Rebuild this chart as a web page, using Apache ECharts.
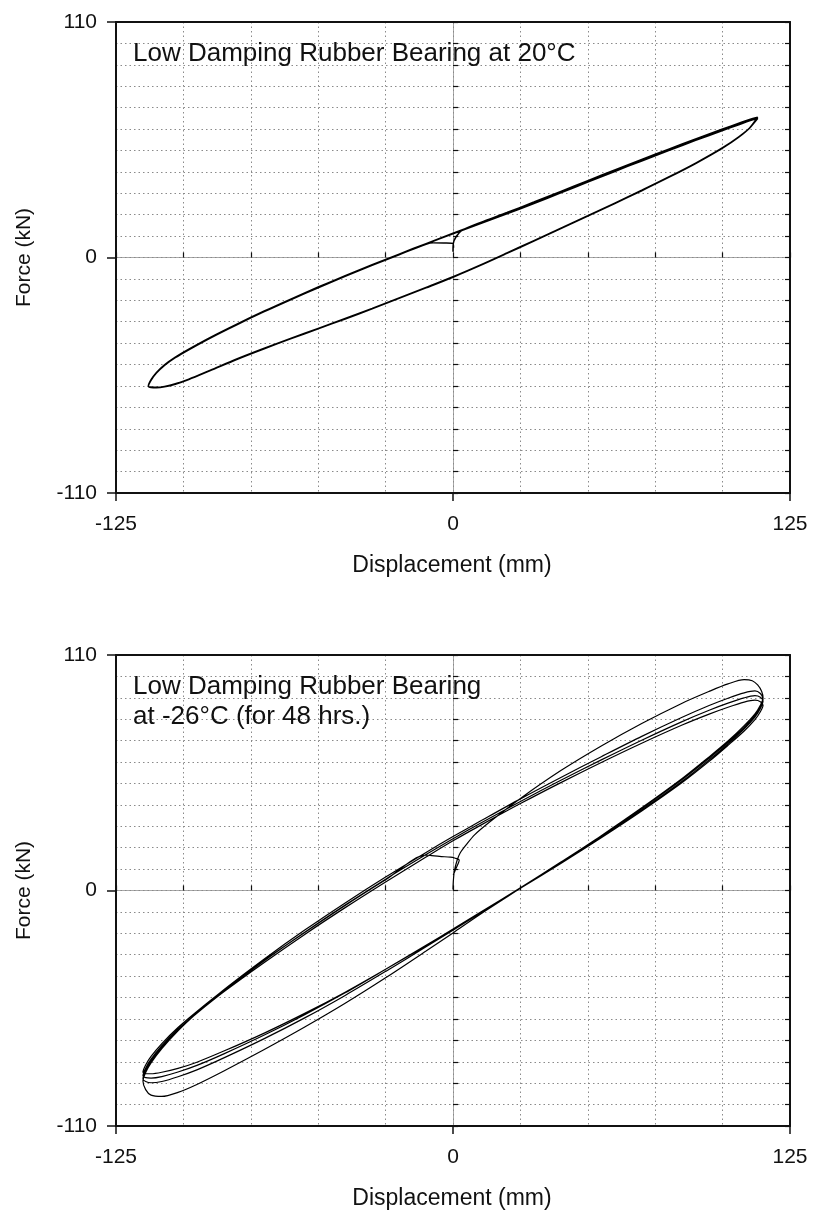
<!DOCTYPE html>
<html>
<head>
<meta charset="utf-8">
<title>Low Damping Rubber Bearing – hysteresis</title>
<script src="https://cdn.jsdelivr.net/npm/echarts@6/dist/echarts.min.js"></script>
<style>
  html, body { margin: 0; padding: 0; background: #fff; }
  #chart { width: 814px; height: 1212px; }
</style>
</head>
<body>
<div id="chart"></div>
<script>
// ---------------- Test at 20 °C ----------------
// Displacement stations (mm) shared by every branch of the loop
const topDisp = [-113, -112, -110, -107, -103, -98, -90, -80, -70, -60, -50, -40, -30, -20, -10,
                 0, 10, 20, 30, 40, 50, 60, 70, 80, 90, 100, 106, 110, 113];
// first loading from rest onto the loop (mm, kN)
const topStart = [[0, 2.7], [0.1, 6.5], [1.2, 9.8], [3.2, 12.6]];
// loading branch of cycle 1, stations 10 … 113 mm (kN)
const topUpper1 = [16.3, 21, 25.9, 30.9, 35.9, 40.9, 45.8, 50.6, 55.4, 60, 62.7, 64.5, 65.5];
// unloading branches, listed in increasing displacement (kN)
const topLower1 = [-60.1, -60.7, -60.8, -60.4, -59.2, -57, -52.8, -47.5, -42.6, -37.9, -33.3, -28.7, -24, -19.1, -14.2,
                   -9.2, -3.8, 1.9, 7.7, 13.5, 19.3, 25.2, 31.2, 37.4, 43.9, 51.1, 56.2, 60.5, 65.5];
const topUpper2 = [-60.1, -57.3, -53.9, -50.3, -46.7, -43, -37.5, -31.2, -25.2, -19.5, -14, -8.7, -3.6, 1.4, 6.3,
                   11.1, 15.8, 20.4, 25.2, 30.2, 35.2, 40.2, 45.1, 49.9, 54.7, 59.3, 62, 63.8, 64.9];
const topLower2 = [-60, -60.5, -60.6, -60.2, -59, -56.8, -52.6, -47.3, -42.4, -37.7, -33.1, -28.5, -23.8, -18.9, -14,
                   -9, -3.6, 2.1, 7.9, 13.7, 19.5, 25.4, 31.4, 37.6, 44.1, 51.3, 56.4, 60.5, 64.9];
const topUpper3 = [-60, -57.1, -53.7, -50.1, -46.5, -42.8, -37.3, -31, -25, -19.3, -13.8, -8.5, -3.4, 1.6, 6.5,
                   11.3, 16, 20.6, 25.4, 30.4, 35.4, 40.4, 45.3, 50.1, 54.9, 59.5, 62.2, 64, 65.1];
const topLower3 = [-60.2, -60.6, -60.7, -60.3, -59.1, -56.9, -52.7, -47.4, -42.5, -37.8, -33.2, -28.6, -23.9, -19, -14.1,
                   -9.1, -3.7, 2, 7.8, 13.6, 19.4, 25.3, 31.3, 37.5, 44, 51.2, 56.3, 60.4, 65.1];
// last loading branch, stations -113 … -10 mm (kN)
const topUpper4 = [-60.2, -57.4, -54, -50.4, -46.8, -43.1, -37.6, -31.3, -25.3, -19.6, -14.1, -8.8, -3.7, 1.3, 6.2];
// return to zero displacement at the end of the test
const topEnd = [[-7.4, 6.9], [-3.5, 6.8], [0, 6.6], [0.2, 4.5]];

// ---------------- Test at -26 °C (48 hrs.) ----------------
const botDisp = [-115, -114, -112, -108, -102, -95, -85, -70, -55, -40, -25, -10,
                 0, 10, 25, 40, 55, 70, 85, 95, 102, 108, 112, 114, 115];
// first loading from rest to the positive peak (mm, kN)
const botStart = [[0, 0.5], [0.1, 4], [0.5, 9], [1.5, 14], [2.6, 17.4], [5, 21.5], [8, 26], [13.7, 32.1],
                  [25, 43], [40, 56], [55, 67.5], [70, 78], [85, 87.5], [95, 93], [102, 96.5], [108, 98.5],
                  [111, 98], [113, 96], [114.5, 93], [115, 90]];
// unloading and reloading branches, listed in increasing displacement (kN)
const botLower1 = [-89, -93, -95.6, -96.2, -94.3, -90.6, -84.3, -74.3, -63.8, -52.7, -40.8, -28.3,
                   -19.8, -11.2, 1, 13.2, 25.6, 38.6, 52.3, 62.4, 69.8, 77, 82.5, 86.5, 90];
const botUpper2 = [-89, -85, -80.5, -73.8, -65.5, -57.2, -46.4, -32, -18.5, -5.8, 6.3, 17.8,
                   25.2, 32.3, 42.8, 52.8, 62.5, 72, 80.9, 86.4, 89.8, 92.3, 93.2, 92, 89.5];
const botLower2 = [-88, -89.2, -89.8, -89.2, -87, -83.8, -78.2, -69.2, -59.5, -49, -37.8, -26.3,
                   -18.6, -10.6, 1.3, 13.3, 25.5, 38.3, 51.8, 61.8, 69.2, 76.2, 81.7, 85.8, 89.5];
const botUpper3 = [-88, -84, -79.5, -73, -65, -57.2, -46.9, -32.8, -19.5, -6.8, 5.3, 16.8,
                   24.2, 31.3, 41.6, 51.5, 61, 70.2, 78.9, 84.2, 87.5, 90, 91, 90.3, 88.5];
const botLower3 = [-86.5, -87.4, -87.6, -86.9, -84.8, -81.7, -76.3, -67.5, -58, -47.8, -36.8, -25.6,
                   -18, -10.3, 1.3, 13, 25, 37.6, 51, 61, 68.5, 75.5, 81, 85, 88.5];
const botUpper4 = [-86.5, -83, -78.8, -72.5, -64.8, -57.3, -47.3, -33.6, -20.5, -8, 4, 15.6,
                   23.2, 30.3, 40.6, 50.4, 59.8, 68.8, 77.3, 82.4, 85.6, 88, 88.9, 88.2, 86.5];
const botLower4 = [-84.8, -85.5, -85.6, -84.9, -83.1, -80.2, -75, -66.6, -57.4, -47.5, -36.8, -25.8,
                   -18.2, -10.6, 1, 12.6, 24.6, 37.1, 50.4, 60.3, 67.8, 74.5, 79.8, 83.5, 86.5];
// last loading branch, stations -115 … -10 mm (kN)
const botUpper5 = [-84.8, -81.5, -77.5, -71.5, -64, -56.5, -46.5, -32.6, -19.6, -7, 5, 16.5];
const botEnd = [[-8.5, 16.4], [-5, 15.9], [-1, 15.6], [0.6, 15.2], [2.3, 14.2], [1, 10], [0.1, 7.2]];

// Axis ranges and tick steps
const dispRange = [-125, 125];
const forceRange = [-110, 110];
const dispLabelStep = 125, dispGridStep = 25;
const forceLabelStep = 110, forceGridStep = 10;

// ---------------- path assembly ----------------
// loading branch: stations in increasing order (a partial branch uses the first stations)
function rising(disp, f) { return f.map((v, i) => [disp[i], v]); }
// loading branch that ends at the last station
function risingTail(disp, f) { const o = disp.length - f.length; return f.map((v, i) => [disp[o + i], v]); }
// unloading branch: traversed from the largest station downwards
function falling(disp, f) { return f.map((v, i) => [disp[i], v]).reverse(); }
function joinPath(parts) {
  const out = [];
  parts.forEach(p => p.forEach(pt => {
    const last = out[out.length - 1];
    if (!last || last[0] !== pt[0] || last[1] !== pt[1]) out.push(pt);
  }));
  return out;
}

const topPath = joinPath([
  topStart, risingTail(topDisp, topUpper1),
  falling(topDisp, topLower1), rising(topDisp, topUpper2),
  falling(topDisp, topLower2), rising(topDisp, topUpper3),
  falling(topDisp, topLower3), rising(topDisp, topUpper4), topEnd
]);
const botPath = joinPath([
  botStart,
  falling(botDisp, botLower1), rising(botDisp, botUpper2),
  falling(botDisp, botLower2), rising(botDisp, botUpper3),
  falling(botDisp, botLower3), rising(botDisp, botUpper4),
  falling(botDisp, botLower4), rising(botDisp, botUpper5), botEnd
]);

// ---------------- layout ----------------
const FONT = '"Liberation Sans", Arial, Helvetica, sans-serif';
const INK = '#111';
const panels = [
  { top: 22, title: 'Low Damping Rubber Bearing at 20°C', path: topPath, lw: 1.5 },
  { top: 655, title: 'Low Damping Rubber Bearing\nat -26°C (for 48 hrs.)', path: botPath, lw: 1.2 }
];
const PLOT_LEFT = 116, PLOT_W = 674, PLOT_H = 471;

const grids = [], xAxes = [], yAxes = [], series = [], graphics = [];
const frameLine = { show: true, onZero: false, lineStyle: { color: INK, width: 2 } };
const labelStyle = { fontSize: 21, fontFamily: FONT, color: INK };
const dotted = { show: true, lineStyle: { color: '#8a8a8a', width: 1, type: [1.5, 3] } };

panels.forEach((p, k) => {
  const gMain = grids.length, gFine = gMain + 1;
  const rect = { left: PLOT_LEFT, top: p.top, width: PLOT_W, height: PLOT_H, containLabel: false };
  grids.push(Object.assign({}, rect), Object.assign({}, rect));

  const xMain = xAxes.length;
  // labelled bottom axis with outward ticks and solid zero line
  xAxes.push({
    gridIndex: gMain, type: 'value', position: 'bottom',
    min: dispRange[0], max: dispRange[1], interval: dispLabelStep,
    axisLine: frameLine,
    axisTick: { show: true, inside: false, length: 8, lineStyle: { color: INK, width: 1.5 } },
    axisLabel: Object.assign({ margin: 21 }, labelStyle),
    splitLine: { show: true, lineStyle: { color: '#a8a8a8', width: 1 } }
  });
  // top frame edge
  xAxes.push({
    gridIndex: gMain, type: 'value', position: 'top',
    min: dispRange[0], max: dispRange[1], interval: dispLabelStep,
    axisLine: frameLine, axisTick: { show: false }, axisLabel: { show: false }, splitLine: { show: false }
  });
  // fine divisions: inward ticks and dotted grid
  xAxes.push({
    gridIndex: gFine, type: 'value', position: 'bottom',
    min: dispRange[0], max: dispRange[1], interval: dispGridStep,
    axisLine: { show: false },
    axisTick: { show: true, inside: true, length: 5, lineStyle: { color: INK, width: 1.2 } },
    axisLabel: { show: false }, splitLine: dotted
  });

  const yMain = yAxes.length;
  yAxes.push({
    gridIndex: gMain, type: 'value', position: 'left',
    min: forceRange[0], max: forceRange[1], interval: forceLabelStep,
    axisLine: frameLine,
    axisTick: { show: true, inside: false, length: 9, lineStyle: { color: INK, width: 1.5 } },
    axisLabel: Object.assign({ margin: 19 }, labelStyle),
    splitLine: { show: true, lineStyle: { color: '#a8a8a8', width: 1 } }
  });
  // right frame edge with inward ticks
  yAxes.push({
    gridIndex: gMain, type: 'value', position: 'right',
    min: forceRange[0], max: forceRange[1], interval: forceGridStep,
    axisLine: frameLine,
    axisTick: { show: true, inside: true, length: 5, lineStyle: { color: INK, width: 1.2 } },
    axisLabel: { show: false }, splitLine: { show: false }
  });
  yAxes.push({
    gridIndex: gFine, type: 'value', position: 'left',
    min: forceRange[0], max: forceRange[1], interval: forceGridStep,
    axisLine: { show: false },
    axisTick: { show: true, inside: true, length: 5, lineStyle: { color: INK, width: 1.2 } },
    axisLabel: { show: false }, splitLine: dotted
  });

  series.push({
    type: 'line', xAxisIndex: xMain, yAxisIndex: yMain,
    data: p.path, showSymbol: false, symbol: 'none', smooth: 0.3,
    lineStyle: { color: '#000', width: p.lw }, z: 5, silent: true
  });

  // panel caption inside the plot
  graphics.push({
    type: 'text', x: 133, y: p.top + 17, z: 10,
    style: { text: p.title, fontSize: 26, fontFamily: FONT, fill: INK, lineHeight: 30,
             align: 'left', verticalAlign: 'top' }
  });
  // axis names
  graphics.push({
    type: 'text', x: 24, y: p.top + PLOT_H / 2, rotation: Math.PI / 2,
    style: { text: 'Force (kN)', fontSize: 21, fontFamily: FONT, fill: INK, align: 'center', verticalAlign: 'middle' }
  });
  graphics.push({
    type: 'text', x: PLOT_LEFT + PLOT_W / 2 - 1, y: p.top + PLOT_H + 73,
    style: { text: 'Displacement (mm)', fontSize: 23, fontFamily: FONT, fill: INK, align: 'center', verticalAlign: 'middle' }
  });
});

const chart = echarts.init(document.getElementById('chart'), null, { renderer: 'canvas' });
chart.setOption({
  animation: false,
  backgroundColor: '#fff',
  grid: grids,
  xAxis: xAxes,
  yAxis: yAxes,
  series: series,
  graphic: graphics
});
</script>
</body>
</html>
